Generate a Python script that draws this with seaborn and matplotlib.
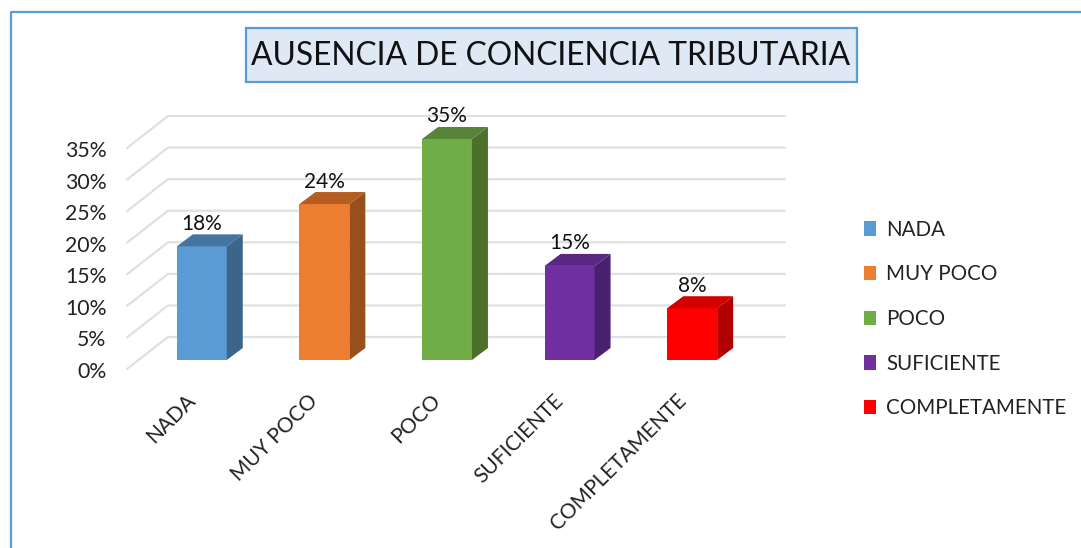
import matplotlib
matplotlib.use("Agg")
import matplotlib.pyplot as plt
import seaborn as sns
from matplotlib.patches import Polygon, Rectangle
from matplotlib.lines import Line2D
from matplotlib.transforms import IdentityTransform, ScaledTranslation

# --- Données ---
categories = ["NADA", "MUY POCO", "POCO", "SUFICIENTE", "COMPLETAMENTE"]
values = [0.18, 0.247, 0.35, 0.149, 0.082]
value_labels = ["18%", "24%", "35%", "15%", "8%"]
y_ticks = [0, 0.05, 0.10, 0.15, 0.20, 0.25, 0.30, 0.35]
y_tick_labels = ["0%", "5%", "10%", "15%", "20%", "25%", "30%", "35%"]
title = "AUSENCIA DE CONCIENCIA TRIBUTARIA"

front_colors = ["#5B9BD5", "#ED7D31", "#70AD47", "#7030A0", "#FF0000"]
side_colors = ["#3C6689", "#974F1D", "#4C6F2A", "#4A2070", "#B00000"]
top_colors = ["#44749F", "#B55C20", "#578437", "#5A2785", "#D40000"]

W, H = 1081, 548
sns.set_theme(style="white")
plt.rcParams["font.family"] = ["Lato", "DejaVu Sans"]

fig = plt.figure(figsize=(W / 100, H / 100), dpi=100)
ax = fig.add_axes([140.5 / W, (H - 360) / H, 613 / W, 221 / H])

# --- Barres (faces avant) ---
sns.barplot(x=categories, y=values, hue=categories, palette=front_colors,
            width=0.407, saturation=1, legend=True, ax=ax, zorder=2, edgecolor="none", linewidth=0)
ax.set_xlim(-0.5, 4.5)
ax.set_ylim(0, 0.35)
sns.despine(ax=ax, left=True, bottom=True, top=True, right=True)

# --- Grille en perspective ---
for v in y_ticks:
    y0 = ax.transData.transform((0, v))[1]
    ax.add_line(Line2D([127, 168, 785], [y0 - 9, y0 + 23, y0 + 23], color="#E0E0E0", lw=1.6,
                       transform=IdentityTransform(), clip_on=False, zorder=0))

# --- Faces latérales et dessus des barres ---
dx, dy = 16, 12
bars = [c[0] for c in ax.containers]
for bar, side, top in zip(bars, side_colors, top_colors):
    (x0, y0), (x1, y1) = ax.transData.transform([(bar.get_x(), 0), (bar.get_x() + bar.get_width(), bar.get_height())])
    ax.add_patch(Polygon([(x1, y0), (x1 + dx, y0 + dy), (x1 + dx, y1 + dy), (x1, y1)], facecolor=side,
                         edgecolor="none", transform=IdentityTransform(), clip_on=False, zorder=3))
    ax.add_patch(Polygon([(x0, y1), (x0 + dx, y1 + dy), (x1 + dx, y1 + dy), (x1, y1)], facecolor=top,
                         edgecolor="none", transform=IdentityTransform(), clip_on=False, zorder=3))
    bar.set_clip_on(False)

for container, label in zip(ax.containers, value_labels):
    ax.bar_label(container, labels=[label], padding=9, fontsize=15, color="#111111", zorder=5)

# --- Axes ---
ax.set_yticks(y_ticks)
ax.set_yticklabels(y_tick_labels, fontsize=15.3, color="#222222")
ax.tick_params(axis="y", length=0, pad=24.5)
for lab in ax.get_yticklabels():
    lab.set_transform(lab.get_transform() + ScaledTranslation(0, -10 / 100, fig.dpi_scale_trans))

ax.set_xticks(range(len(categories)))
ax.set_xticklabels(categories, rotation=45, ha="right", va="top", rotation_mode="anchor",
                   fontsize=15, color="#222222")
ax.tick_params(axis="x", length=0, pad=22)
for lab in ax.get_xticklabels():
    lab.set_transform(lab.get_transform() + ScaledTranslation(-16.5 / 100, 0, fig.dpi_scale_trans))

# --- Légende ---
handles, labels = ax.get_legend_handles_labels()
ax.legend(handles, labels, loc="center left", bbox_to_anchor=(864 / W, (H - 319) / H),
          bbox_transform=fig.transFigure, frameon=False, fontsize=14.8, labelspacing=1.2,
          handlelength=0.6, handleheight=0.7, handletextpad=0.48, borderpad=0, borderaxespad=0,
          labelcolor="#222222")

# --- Cadre et titre ---
fig.add_artist(Line2D([10.5 / W, 10.5 / W, 1], [0, (H - 12) / H, (H - 12) / H], color="#5B9BD5", lw=1.6))
fig.add_artist(Rectangle((246 / W, (H - 82) / H), 611 / W, 54 / H, facecolor="#DEE9F5", edgecolor="#5B9BD5",
                         lw=1.6, transform=fig.transFigure))
fig.text(551 / W, (H - 56) / H, title, ha="center", va="center", fontsize=22.9, color="#111111")

fig.savefig("out.png", dpi=100)
